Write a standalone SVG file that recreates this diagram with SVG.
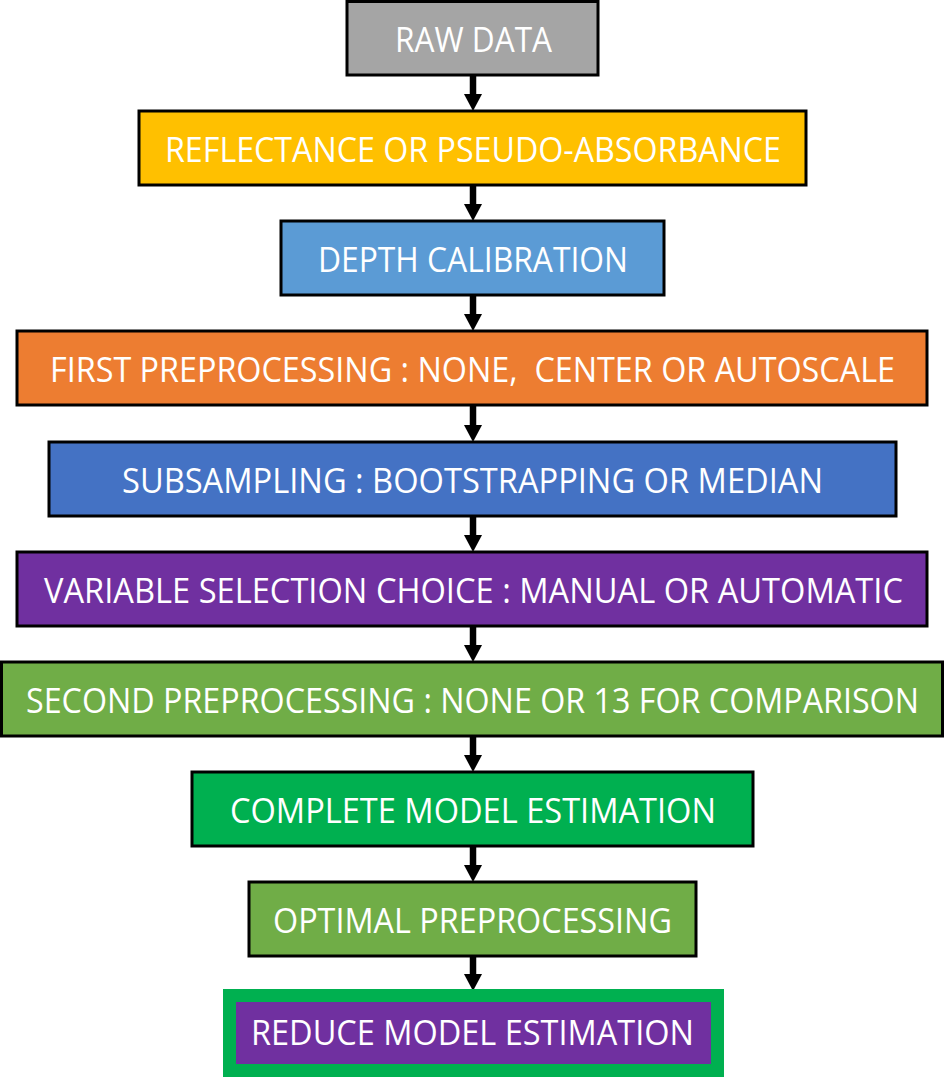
<svg xmlns="http://www.w3.org/2000/svg" width="945" height="1078" viewBox="0 0 945 1078">
  <style>
    .box { stroke: #000; stroke-width: 3; }
    .lbl { font-family: "Open Sans", "Noto Sans", "Liberation Sans", sans-serif; font-size: 34.5px; fill: #fff; text-anchor: start; }
    .conn { stroke: #000; stroke-width: 6.5; fill: none; }
  </style>
  <defs>
    <!-- downward arrowhead, 18 wide and 17 long -->
    <marker id="head" markerUnits="userSpaceOnUse" markerWidth="18" markerHeight="18" refX="2" refY="9" orient="auto">
      <path d="M0,0 L17,9 L0,18 Z" fill="#000"/>
    </marker>
  </defs>
  <rect width="945" height="1078" fill="#fff"/>

  <!-- connectors -->
  <g id="connectors">
    <line class="conn" x1="473" y1="75" x2="473" y2="96" marker-end="url(#head)"/>
    <line class="conn" x1="473" y1="185" x2="473" y2="206" marker-end="url(#head)"/>
    <line class="conn" x1="473" y1="295" x2="473" y2="316" marker-end="url(#head)"/>
    <line class="conn" x1="473" y1="405" x2="473" y2="427" marker-end="url(#head)"/>
    <line class="conn" x1="473" y1="516" x2="473" y2="537" marker-end="url(#head)"/>
    <line class="conn" x1="473" y1="626" x2="473" y2="647" marker-end="url(#head)"/>
    <line class="conn" x1="473" y1="736" x2="473" y2="757" marker-end="url(#head)"/>
    <line class="conn" x1="473" y1="846" x2="473" y2="867" marker-end="url(#head)"/>
    <line class="conn" x1="473" y1="956" x2="473" y2="976" marker-end="url(#head)"/>
  </g>

  <g id="raw-data">
    <rect class="box" x="347" y="1.5" width="251" height="73.5" fill="#a5a5a5"/>
    <text class="lbl" x="395" y="52" textLength="157" lengthAdjust="spacingAndGlyphs">RAW DATA</text>
  </g>
  <g id="reflectance">
    <rect class="box" x="139" y="111" width="667" height="74" fill="#ffc000"/>
    <text class="lbl" x="165" y="162" textLength="616" lengthAdjust="spacingAndGlyphs">REFLECTANCE OR PSEUDO-ABSORBANCE</text>
  </g>
  <g id="depth-calibration">
    <rect class="box" x="281" y="221" width="383" height="74" fill="#5b9bd5"/>
    <text class="lbl" x="318" y="272" textLength="310" lengthAdjust="spacingAndGlyphs">DEPTH CALIBRATION</text>
  </g>
  <g id="first-preprocessing">
    <rect class="box" x="17" y="331" width="910" height="74" fill="#ed7d31"/>
    <text class="lbl" x="50" y="382" textLength="845" lengthAdjust="spacingAndGlyphs" xml:space="preserve">FIRST PREPROCESSING : NONE,  CENTER OR AUTOSCALE</text>
  </g>
  <g id="subsampling">
    <rect class="box" x="49" y="442" width="847" height="74" fill="#4472c4"/>
    <text class="lbl" x="122" y="493" textLength="701" lengthAdjust="spacingAndGlyphs">SUBSAMPLING : BOOTSTRAPPING OR MEDIAN</text>
  </g>
  <g id="variable-selection">
    <rect class="box" x="17" y="552" width="910" height="74" fill="#7030a0"/>
    <text class="lbl" x="44" y="603" textLength="859" lengthAdjust="spacingAndGlyphs">VARIABLE SELECTION CHOICE : MANUAL OR AUTOMATIC</text>
  </g>
  <g id="second-preprocessing">
    <rect class="box" x="1.5" y="662" width="941" height="74" fill="#70ad47"/>
    <text class="lbl" x="26" y="713" textLength="893" lengthAdjust="spacingAndGlyphs">SECOND PREPROCESSING : NONE OR 13 FOR COMPARISON</text>
  </g>
  <g id="complete-model">
    <rect class="box" x="192" y="772" width="561" height="74" fill="#00b050"/>
    <text class="lbl" x="230" y="823" textLength="486" lengthAdjust="spacingAndGlyphs">COMPLETE MODEL ESTIMATION</text>
  </g>
  <g id="optimal-preprocessing">
    <rect class="box" x="249" y="882" width="447" height="74" fill="#70ad47"/>
    <text class="lbl" x="273" y="933" textLength="399" lengthAdjust="spacingAndGlyphs">OPTIMAL PREPROCESSING</text>
  </g>
  <g id="reduce-model">
    <rect x="223" y="989" width="501" height="88" fill="#00b050"/>
    <rect x="236" y="1002" width="475" height="62" fill="#7030a0"/>
    <text class="lbl" x="251" y="1045" textLength="443" lengthAdjust="spacingAndGlyphs">REDUCE MODEL ESTIMATION</text>
  </g>
</svg>
